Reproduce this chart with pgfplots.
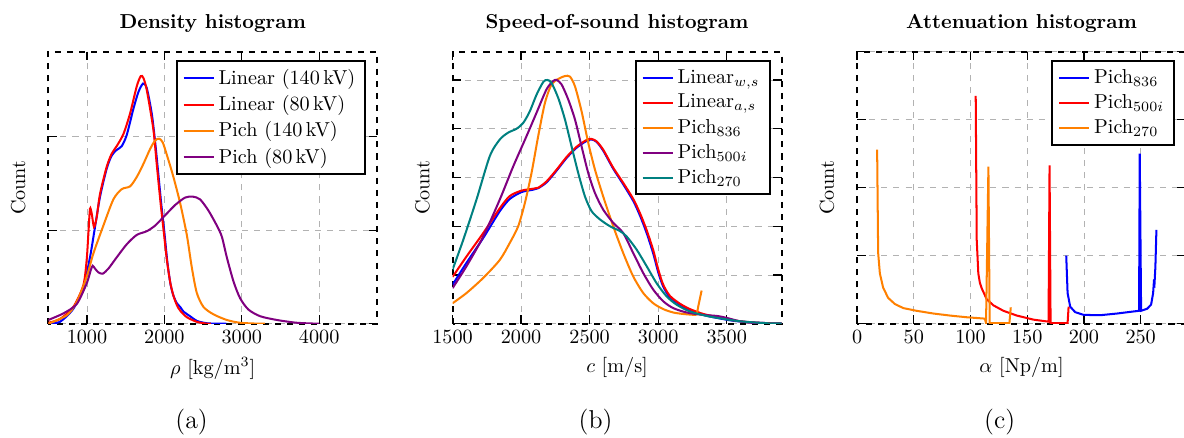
\documentclass[border=0pt]{standalone}
\usepackage{pgfplots}
\pgfplotsset{compat=1.18}
\definecolor{cblue}{RGB}{0,0,255}
\definecolor{cred}{RGB}{255,0,0}
\definecolor{corange}{RGB}{255,128,0}
\definecolor{cpurple}{RGB}{128,0,128}
\definecolor{cteal}{RGB}{0,128,128}
\pgfplotsset{
  legend image code/.code={\draw[mark repeat=2,mark phase=2,#1] plot coordinates {(0cm,0cm) (0.26cm,0cm) (0.52cm,0cm)};},
  hist/.style={
    scale only axis, width=162.9pt, height=134.7pt, anchor=south west,
    axis line style={black, dashed, line width=1pt},
    grid=major, major grid style={dashed, black!30, line width=0.4pt},
    yticklabels={}, ylabel={Count},
    every axis y label/.style={at={(axis description cs:-0.0915,0.5)}, rotate=90, anchor=center},
    title style={font=\bfseries, at={(axis description cs:0.5,1)}, anchor=center, yshift=8pt},
    legend style={at={(axis description cs:0.967,0.969)}, anchor=north east, draw=black, line width=1pt},
    legend cell align=left,
    every axis plot/.append style={line width=1pt, no markers},
    tick style={black, solid, line width=0.6pt},
    scaled x ticks=false,
    /pgf/number format/1000 sep={},
    ymin=0,
  },
}
\begin{document}
\begin{tikzpicture}
% ---------------- (a) density
\begin{axis}[hist, at={(0pt,0pt)},
  title={Density histogram},
  xlabel={$\rho$ [kg/m$^3$]},
  xmin=500, xmax=4750, ymax=2.911,
  xtick={1000,2000,3000,4000}, ytick={0,1,2}]
\addplot[cblue, smooth, tension=0.45] coordinates {
(500,0) (651,0.02) (824,0.16) (953,0.39) (1039,0.71) (1104,1.035) (1169,1.36) (1255,1.66) (1320,1.80) (1384,1.86) (1449,1.90) (1514,2.02) (1600,2.30) (1665,2.48) (1725,2.57) (1773,2.52) (1837,2.25) (1880,1.95) (1920,1.62) (1960,1.28) (2000,0.98) (2040,0.65) (2080,0.42) (2117,0.30) (2161,0.22) (2204,0.18) (2247,0.13) (2333,0.08) (2420,0.03) (2550,0.005) (2700,0) (2800,0)};
\addlegendentry{Linear (140\,kV)}
\addplot[cred, smooth, tension=0.45] coordinates {
(500,0.01) (651,0.05) (824,0.18) (953,0.41) (996,0.68) (1018,0.96) (1039,1.23) (1061,1.18) (1091,1.035) (1126,1.14) (1169,1.39) (1255,1.68) (1320,1.82) (1384,1.90) (1471,2.03) (1557,2.25) (1643,2.54) (1695,2.65) (1729,2.63) (1773,2.50) (1858,2.08) (1900,1.72) (1950,1.30) (1990,1.00) (2030,0.70) (2074,0.45) (2117,0.30) (2161,0.20) (2204,0.14) (2290,0.07) (2420,0.02) (2550,0) (2600,0)};
\addlegendentry{Linear (80\,kV)}
\addplot[corange, smooth, tension=0.45] coordinates {
(500,0) (738,0.09) (867,0.23) (996,0.50) (1082,0.75) (1212,1.05) (1341,1.33) (1449,1.44) (1557,1.47) (1643,1.57) (1729,1.71) (1816,1.87) (1880,1.96) (1930,1.98) (1979,1.94) (2053,1.75) (2117,1.57) (2204,1.29) (2290,0.95) (2355,0.60) (2419,0.33) (2505,0.18) (2635,0.10) (2807,0.04) (2980,0.01) (3238,0) (3300,0)};
\addlegendentry{Pich (140\,kV)}
\addplot[cpurple, smooth, tension=0.45] coordinates {
(500,0.04) (694,0.11) (867,0.21) (996,0.43) (1048,0.57) (1074,0.62) (1104,0.59) (1147,0.55) (1203,0.535) (1277,0.59) (1384,0.71) (1514,0.85) (1643,0.95) (1773,0.99) (1880,1.05) (2010,1.16) (2139,1.27) (2268,1.35) (2368,1.36) (2462,1.33) (2570,1.21) (2678,1.05) (2743,0.93) (2807,0.71) (2894,0.45) (2980,0.27) (3088,0.15) (3238,0.08) (3454,0.04) (3713,0.01) (4000,0)};
\addlegendentry{Pich (80\,kV)}
\end{axis}
% ---------------- (b) speed of sound
\begin{axis}[hist, at={(200.2pt,0pt)},
  title={Speed-of-sound histogram},
  xlabel={$c$ [m/s]},
  xmin=1500, xmax=3900, ymax=5.58,
  xtick={1500,2000,2500,3000,3500}, ytick={0,1,2,3,4,5}]
\addplot[cblue, smooth, tension=0.45] coordinates {
(1500,0.80) (1602,1.25) (1724,1.76) (1845,2.31) (1918,2.56) (2003,2.70) (2089,2.75) (2125,2.78) (2186,2.90) (2259,3.14) (2332,3.40) (2405,3.61) (2478,3.75) (2514,3.78) (2551,3.73) (2599,3.55) (2672,3.18) (2745,2.86) (2818,2.52) (2867,2.22) (2916,1.86) (2964,1.44) (3001,1.05) (3037,0.76) (3086,0.54) (3159,0.39) (3232,0.28) (3329,0.18) (3427,0.12) (3548,0.06) (3670,0.03) (3816,0.01) (3900,0.005)};
\addlegendentry{Linear$_{w,s}$}
\addplot[cred, smooth, tension=0.45] coordinates {
(1500,0.96) (1602,1.38) (1724,1.86) (1845,2.37) (1918,2.62) (2003,2.73) (2089,2.77) (2125,2.79) (2186,2.92) (2259,3.16) (2332,3.42) (2405,3.63) (2478,3.77) (2514,3.79) (2551,3.74) (2599,3.57) (2672,3.20) (2745,2.89) (2818,2.56) (2867,2.27) (2916,1.92) (2964,1.51) (3001,1.11) (3037,0.80) (3086,0.57) (3159,0.41) (3232,0.30) (3329,0.20) (3427,0.14) (3548,0.07) (3670,0.03) (3816,0.01) (3900,0.005)};
\addlegendentry{Linear$_{a,s}$}
\addplot[corange, smooth, tension=0.45] coordinates {
(1500,0.42) (1602,0.63) (1724,0.94) (1845,1.31) (1918,1.66) (1979,2.00) (2028,2.48) (2076,3.09) (2125,3.85) (2174,4.53) (2222,4.91) (2271,5.02) (2320,5.08) (2356,5.07) (2393,4.87) (2441,4.36) (2490,3.71) (2539,3.16) (2599,2.61) (2672,2.00) (2745,1.45) (2818,0.97) (2891,0.63) (2964,0.42) (3037,0.30) (3110,0.23) (3183,0.20) (3269,0.18) (3281,0.19) (3293,0.36) (3317,0.68)};
\addlegendentry{Pich$_{836}$}
\addplot[cpurple, smooth, tension=0.45] coordinates {
(1500,0.73) (1602,1.18) (1724,1.79) (1845,2.55) (1943,3.23) (2040,3.85) (2113,4.33) (2186,4.81) (2235,4.98) (2259,5.00) (2295,4.91) (2344,4.60) (2393,4.19) (2441,3.64) (2490,3.09) (2539,2.68) (2599,2.34) (2672,2.07) (2745,1.86) (2818,1.45) (2891,1.04) (2964,0.70) (3037,0.46) (3110,0.32) (3208,0.23) (3329,0.18) (3427,0.16) (3500,0.12) (3597,0.05) (3719,0.01) (3900,0)};
\addlegendentry{Pich$_{500i}$}
\addplot[cteal, smooth, tension=0.45] coordinates {
(1500,1.11) (1578,1.72) (1675,2.55) (1772,3.44) (1845,3.78) (1906,3.92) (1967,4.00) (2016,4.12) (2064,4.36) (2113,4.70) (2162,4.96) (2191,5.00) (2222,4.94) (2271,4.63) (2320,4.19) (2368,3.64) (2417,3.09) (2466,2.61) (2514,2.31) (2575,2.14) (2648,2.00) (2721,1.90) (2770,1.79) (2843,1.52) (2916,1.18) (2989,0.83) (3062,0.56) (3135,0.39) (3232,0.25) (3354,0.16) (3475,0.10) (3597,0.05) (3792,0.01) (3900,0.005)};
\addlegendentry{Pich$_{270}$}
\end{axis}
% ---------------- (c) attenuation
\begin{axis}[hist, at={(400.5pt,0pt)},
  title={Attenuation histogram},
  xlabel={$\alpha$ [Np/m]},
  xmin=0, xmax=290, ymax=4,
  xtick={0,50,100,150,200,250}, ytick={0,1,2,3,4}]
\addplot[cblue] coordinates {
(184.4,1.0) (185.6,0.45) (187.9,0.25) (192.3,0.17) (199.7,0.13) (214.4,0.125) (229.2,0.15) (248.6,0.19) (249.2,2.50) (250.4,0.19) (255.7,0.22) (259.2,0.28) (261.0,0.45) (261.6,0.60) (262.2,0.58) (263.0,0.84) (263.9,1.38)};
\addlegendentry{Pich$_{836}$}
\addplot[cred] coordinates {
(104.6,3.35) (105.5,1.23) (106.9,0.74) (108.3,0.60) (109.9,0.52) (114.3,0.36) (120.2,0.27) (129.0,0.19) (140.8,0.12) (155.5,0.06) (168.8,0.03) (169.7,2.33) (170.6,0.01) (185.6,0.01) (186.5,0.25)};
\addlegendentry{Pich$_{500i}$}
\addplot[corange] coordinates {
(17.7,2.56) (18.6,1.04) (20.1,0.74) (23.0,0.53) (27.4,0.38) (33.3,0.29) (40.7,0.23) (52.4,0.19) (67.2,0.15) (81.9,0.12) (96.6,0.095) (112.6,0.075) (113.7,0.01) (115.8,2.31) (116.9,0.01) (134.3,0.01) (135.5,0.24)};
\addlegendentry{Pich$_{270}$}
\end{axis}
\node[font=\fontsize{12.8}{15}\selectfont] at (71pt,-48.6pt) {(a)};
\node[font=\fontsize{12.8}{15}\selectfont] at (271pt,-48.6pt) {(b)};
\node[font=\fontsize{12.8}{15}\selectfont] at (471.1pt,-48.6pt) {(c)};
\pgfresetboundingbox
\path[use as bounding box] (-23.9pt,-56.1pt) rectangle (562.4pt,160.3pt);
\end{tikzpicture}
\end{document}
